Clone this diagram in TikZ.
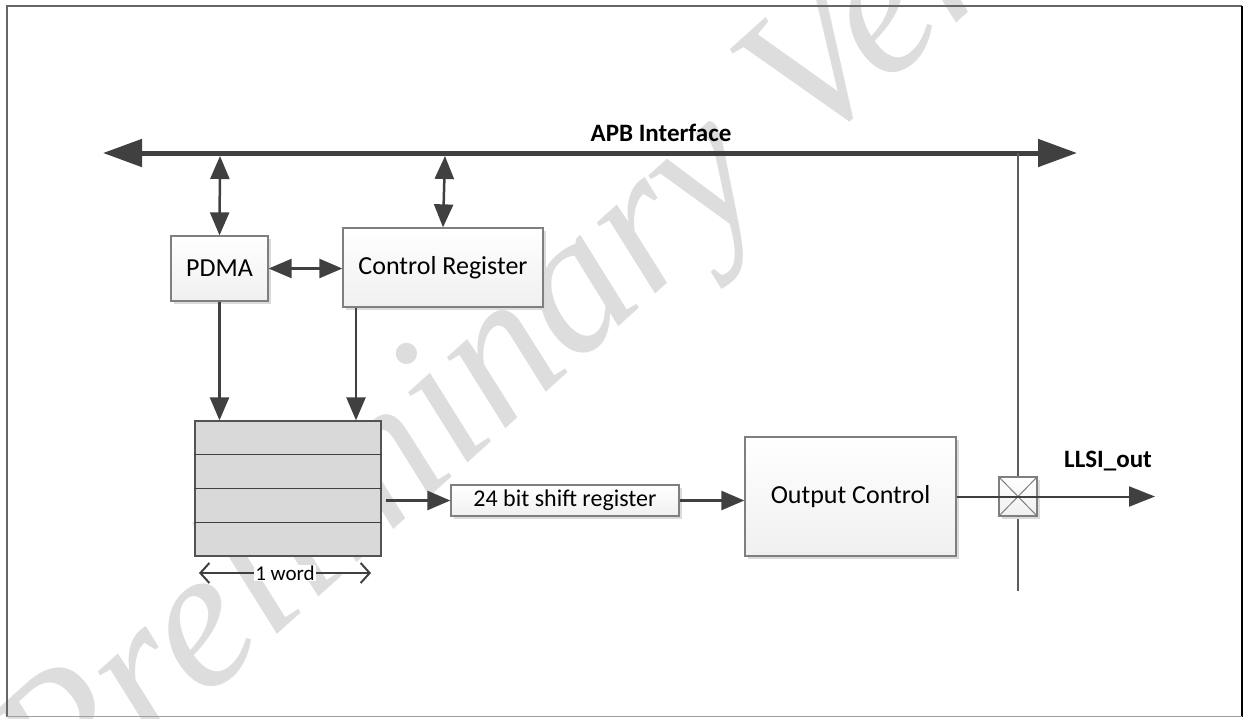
\documentclass[tikz,border=0pt]{standalone}
\usepackage{fontspec}
\setmainfont{Carlito}
\newfontfamily\wmfont{Liberation Serif}
\usetikzlibrary{arrows.meta,shadows,calc}

\definecolor{ink}{HTML}{404040}
\definecolor{boxline}{HTML}{7F7F7F}
\definecolor{fifofill}{HTML}{D9D9D9}
\definecolor{wmgray}{HTML}{DDDDDD}

\tikzset{
  block/.style={draw=boxline, line width=1.3pt, top color=white, bottom color=gray!12,
    drop shadow={shadow xshift=3pt, shadow yshift=-3pt, fill=gray!28, opacity=1},
    inner sep=0pt, font=\fontsize{26}{30}\selectfont},
  fifo/.style={draw=ink!90, line width=1.3pt, fill=fifofill, inner sep=0pt},
  rowline/.style={draw=ink, line width=1.2pt},
  bus/.style={draw=ink, line width=5pt, {Triangle[length=39pt,width=27pt]}-{Triangle[length=39pt,width=27pt]}},
  arr/.style={draw=ink, fill=ink, line width=2.5pt, -{Triangle[length=23pt,width=19pt]}},
  biarr/.style={draw=ink, fill=ink, line width=2.5pt, {Triangle[length=23pt,width=19pt]}-{Triangle[length=23pt,width=19pt]}},
  sig/.style={draw=ink, line width=2pt, -{Triangle[length=26pt,width=20pt]}},
  tapline/.style={draw=ink!85, line width=2pt},
  span/.style={draw=ink, line width=2pt, {Straight Barb[length=9pt,width=20pt]}-{Straight Barb[length=9pt,width=20pt]}},
  label/.style={font=\fontsize{25}{30}\selectfont\bfseries, text=black},
}

\begin{document}
\begin{tikzpicture}[x=1pt,y=-1pt]
\useasboundingbox (0,0) rectangle (1246,718);

% faint watermark lettering behind the drawing
\begin{scope}
  \clip (0,0) rectangle (1246,718);
  \node[anchor=base west, rotate=42, inner sep=0pt, text=wmgray,
        font=\wmfont\itshape\fontsize{200}{220}\selectfont] (wm) at (60,830) {Preliminary Version};
\end{scope}

% page frame
\draw[draw=ink!80, line width=1.5pt] (7,716.5) -- (7,6) -- (1242,6);
\draw[draw=black, line width=2pt] (1242,6) -- (1242,716.5);
\draw[draw=gray!75, line width=1.5pt] (7,716.5) -- (1242,716.5);

% APB bus
\coordinate (busL) at (103,153);
\coordinate (busR) at (1077,153);
\draw[bus] (busL) -- (busR);
\node[label] (apb) at (661,133) {APB Interface};

% tap from the bus down to the output pad
\coordinate (tap) at (1018,153);
\coordinate (tapEnd) at (1018,591);
\draw[tapline] (tap) -- (tapEnd);

% blocks
\node[block, minimum width=97pt, minimum height=65pt] (pdma) at (219.5,268.5) {PDMA};
\node[block, minimum width=200pt, minimum height=79pt] (cr) at (443,267.5) {Control Register};
\node[block, minimum width=228pt, minimum height=31pt, font=\fontsize{24}{28}\selectfont] (shift) at (565,500.5) {24 bit shift register};
\node[block, minimum width=211pt, minimum height=119pt] (oc) at (850.5,496.5) {Output Control};

% FIFO of four words
\node[fifo, minimum width=186pt, minimum height=135pt] (fifo) at (288,488.5) {};
\foreach \f in {0.25,0.5,0.75}
  \draw[rowline] ($(fifo.north west)!\f!(fifo.south west)$) -- ($(fifo.north east)!\f!(fifo.south east)$);

% output pad
\node[block, minimum width=38pt, minimum height=39pt] (pad) at (1018,496.5) {};
\draw[draw=boxline, line width=1pt] (pad.north west) -- (pad.south east);
\draw[draw=boxline, line width=1pt] (pad.north east) -- (pad.south west);

% connections
\coordinate (pdmaBus) at (220,156);
\coordinate (crBus) at (445,156);
\draw[biarr] (pdmaBus) -- (pdma.north);
\draw[biarr] (crBus) -- (cr.north);
\draw[biarr] (pdma.east) -- (pdma.east -| cr.west);
\draw[arr] (pdma.south) -- (pdma.south |- fifo.north);
\draw[arr] ([xshift=-87pt]cr.south) -- ([xshift=-87pt]cr.south |- fifo.north);
\draw[arr] ([xshift=4pt]fifo.east |- shift.west) -- (shift.west);
\draw[arr] (shift.east) -- (shift.east -| oc.west);

\coordinate (llsi) at (1155,496.5);
\draw[sig] (oc.east) -- (llsi);
\node[label] (llsiLabel) at (1108,461) {LLSI\_out};

% word width marker
\coordinate (wL) at (199,573);
\coordinate (wR) at (371,573);
\draw[span] (wL) -- (wR) node[midway, fill=white, inner sep=1pt, font=\fontsize{21}{24}\selectfont] (wordLabel) {1 word};
\end{tikzpicture}
\end{document}
